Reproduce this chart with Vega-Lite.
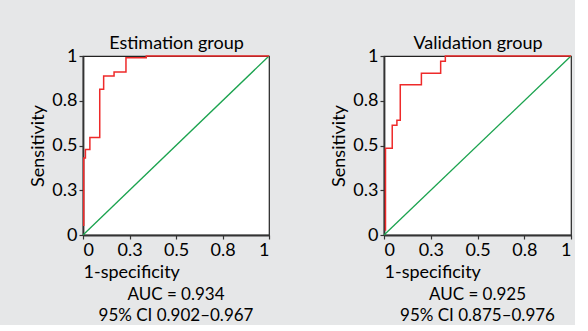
{
  "$schema": "https://vega.github.io/schema/vega-lite/v6.json",
  "background": "#e6e7e8",
  "padding": {"left": 29, "top": 33, "right": 0, "bottom": 0},
  "spacing": 57,
  "datasets": {
    "estimation": [
      {"i": 1, "fpr": 0.004, "tpr": 0.05},
      {"i": 2, "fpr": 0.004, "tpr": 0.43},
      {"i": 3, "fpr": 0.013, "tpr": 0.43},
      {"i": 4, "fpr": 0.013, "tpr": 0.477},
      {"i": 5, "fpr": 0.037, "tpr": 0.477},
      {"i": 6, "fpr": 0.037, "tpr": 0.544},
      {"i": 7, "fpr": 0.09, "tpr": 0.544},
      {"i": 8, "fpr": 0.09, "tpr": 0.814},
      {"i": 9, "fpr": 0.111, "tpr": 0.814},
      {"i": 10, "fpr": 0.111, "tpr": 0.888},
      {"i": 11, "fpr": 0.167, "tpr": 0.888},
      {"i": 12, "fpr": 0.167, "tpr": 0.911},
      {"i": 13, "fpr": 0.231, "tpr": 0.911},
      {"i": 14, "fpr": 0.231, "tpr": 0.99},
      {"i": 15, "fpr": 0.34, "tpr": 0.99},
      {"i": 16, "fpr": 0.34, "tpr": 1.0},
      {"i": 17, "fpr": 1.0, "tpr": 1.0}
    ],
    "validation": [
      {"i": 1, "fpr": 0.008, "tpr": 0.024},
      {"i": 2, "fpr": 0.008, "tpr": 0.485},
      {"i": 3, "fpr": 0.044, "tpr": 0.485},
      {"i": 4, "fpr": 0.044, "tpr": 0.613},
      {"i": 5, "fpr": 0.069, "tpr": 0.613},
      {"i": 6, "fpr": 0.069, "tpr": 0.641},
      {"i": 7, "fpr": 0.087, "tpr": 0.641},
      {"i": 8, "fpr": 0.087, "tpr": 0.84},
      {"i": 9, "fpr": 0.2, "tpr": 0.84},
      {"i": 10, "fpr": 0.2, "tpr": 0.904},
      {"i": 11, "fpr": 0.303, "tpr": 0.904},
      {"i": 12, "fpr": 0.303, "tpr": 0.97},
      {"i": 13, "fpr": 0.328, "tpr": 0.97},
      {"i": 14, "fpr": 0.328, "tpr": 1.0},
      {"i": 15, "fpr": 1.0, "tpr": 1.0}
    ],
    "diag": [{"x0": 0, "y0": 0, "x1": 1, "y1": 1}]
  },
  "hconcat": [
    {
      "width": 186,
      "height": 179,
      "title": {"text": ["AUC = 0.934", "95% CI 0.902–0.967"], "orient": "bottom", "anchor": "middle", "frame": "group"},
      "layer": [
        {
          "data": {"name": "diag"},
          "mark": {"type": "rule", "color": "#1ba34f", "strokeWidth": 1.3},
          "encoding": {
            "x": {"field": "x0", "type": "quantitative", "scale": {"domain": [0, 1]},
              "axis": {"orient": "top", "title": "Estimation group", "labels": false, "ticks": false, "domain": false, "grid": false, "titlePadding": 4}},
            "x2": {"field": "x1"},
            "y": {"field": "y0", "type": "quantitative", "scale": {"domain": [0, 1]}},
            "y2": {"field": "y1"}
          }
        },
        {
          "data": {"name": "estimation"},
          "mark": {"type": "line", "color": "#ee2a2a", "strokeWidth": 1.5},
          "encoding": {
            "x": {"field": "fpr", "type": "quantitative", "scale": {"domain": [0, 1]},
              "axis": {"orient": "bottom", "title": "1-specificity", "values": [0, 0.25, 0.5, 0.75, 1], "format": ".1~f", "titleAnchor": "start", "titleAlign": "left"}},
            "y": {"field": "tpr", "type": "quantitative", "scale": {"domain": [0, 1]},
              "axis": {"title": "Sensitivity", "values": [0, 0.25, 0.5, 0.75, 1], "format": ".1~f"}},
            "order": {"field": "i", "type": "quantitative"}
          }
        }
      ]
    },
    {
      "width": 187,
      "height": 179,
      "title": {"text": ["AUC = 0.925", "95% CI 0.875–0.976"], "orient": "bottom", "anchor": "middle", "frame": "group"},
      "layer": [
        {
          "data": {"name": "diag"},
          "mark": {"type": "rule", "color": "#1ba34f", "strokeWidth": 1.3},
          "encoding": {
            "x": {"field": "x0", "type": "quantitative", "scale": {"domain": [0, 1]},
              "axis": {"orient": "top", "title": "Validation group", "labels": false, "ticks": false, "domain": false, "grid": false, "titlePadding": 4}},
            "x2": {"field": "x1"},
            "y": {"field": "y0", "type": "quantitative", "scale": {"domain": [0, 1]}},
            "y2": {"field": "y1"}
          }
        },
        {
          "data": {"name": "validation"},
          "mark": {"type": "line", "color": "#ee2a2a", "strokeWidth": 1.5},
          "encoding": {
            "x": {"field": "fpr", "type": "quantitative", "scale": {"domain": [0, 1]},
              "axis": {"orient": "bottom", "title": "1-specificity", "values": [0, 0.25, 0.5, 0.75, 1], "format": ".1~f", "titleAnchor": "start", "titleAlign": "left"}},
            "y": {"field": "tpr", "type": "quantitative", "scale": {"domain": [0, 1]},
              "axis": {"title": "Sensitivity", "values": [0, 0.25, 0.5, 0.75, 1], "format": ".1~f"}},
            "order": {"field": "i", "type": "quantitative"}
          }
        }
      ]
    }
  ],
  "config": {
    "font": "Lato",
    "view": {"stroke": "#222222", "strokeWidth": 1.2, "fill": "white"},
    "axis": {
      "grid": false,
      "labelFont": "Lato",
      "titleFont": "Lato",
      "labelFontSize": 18,
      "titleFontSize": 18,
      "titleFontWeight": "normal",
      "labelColor": "#000000",
      "titleColor": "#000000",
      "domainColor": "#333333",
      "domainWidth": 1.8,
      "tickColor": "#333333",
      "tickSize": 4,
      "tickWidth": 1.2,
      "labelPadding": 2,
      "titlePadding": 4
    },
    "title": {"font": "Lato", "fontSize": 17, "fontWeight": "normal", "color": "#000000", "lineHeight": 21, "offset": 6}
  }
}
